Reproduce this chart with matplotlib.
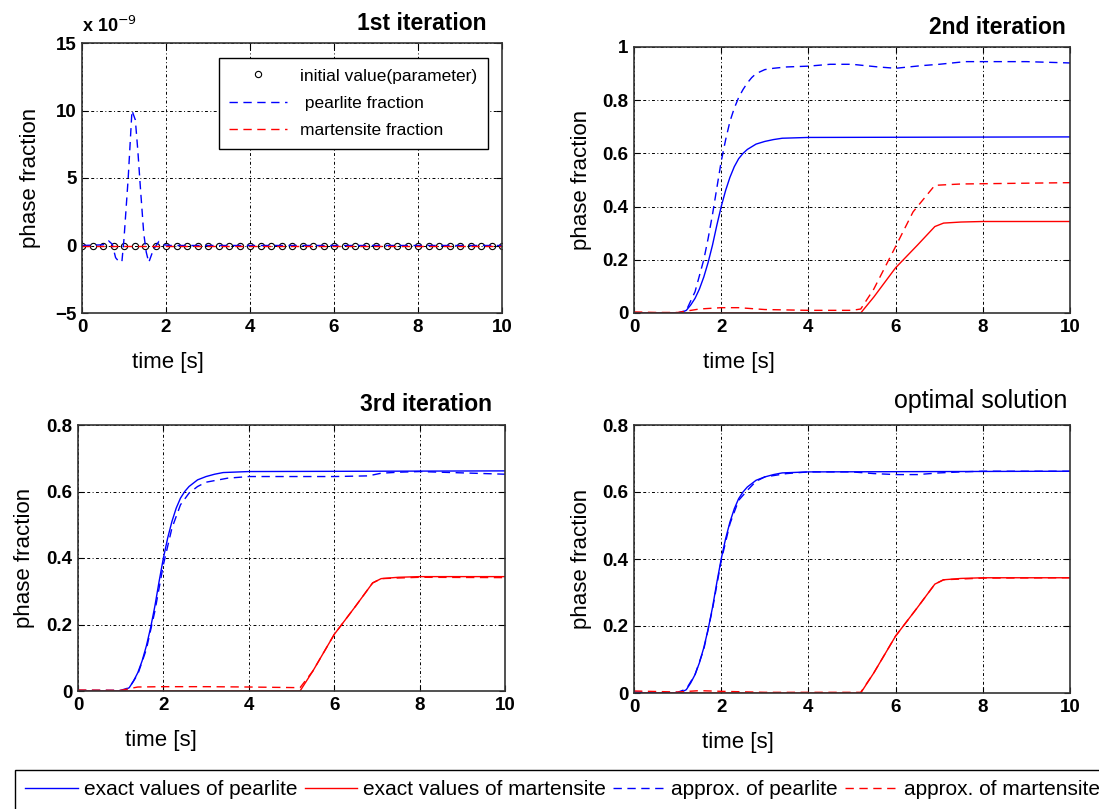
import numpy as np
import matplotlib
matplotlib.use("Agg")
from matplotlib import pyplot as plt

plt.rcParams['font.family'] = ['Liberation Sans', 'DejaVu Sans']

# ---- data ----
# exact solution (same in every panel)
t_pearl_exact = [0, 1.0, 1.1, 1.2, 1.3, 1.4, 1.5, 1.6, 1.7, 1.8, 1.9, 2.0, 2.1, 2.2,
                 2.3, 2.4, 2.5, 2.6, 2.8, 3.0, 3.2, 3.4, 4.0, 10]
pearl_exact = [0, 0, 0.003, 0.01, 0.03, 0.055, 0.09, 0.135, 0.19, 0.255, 0.33, 0.40,
               0.46, 0.51, 0.55, 0.58, 0.60, 0.615, 0.635, 0.645, 0.652, 0.657, 0.66, 0.662]
t_mart_exact = [0, 5.2, 5.5, 6.0, 6.5, 6.9, 7.1, 7.5, 8.0, 10]
mart_exact = [0, 0, 0.06, 0.17, 0.255, 0.325, 0.338, 0.342, 0.344, 0.344]

# 1st iteration
t_init = [0, 0.25, 0.5, 0.75, 1.0, 1.25, 1.5, 1.75, 2.0, 2.25, 2.5, 2.75, 3.0, 3.25,
          3.5, 3.75, 4.0, 4.25, 4.5, 4.75, 5.0, 5.25, 5.5, 5.75, 6.0, 6.25, 6.5,
          6.75, 7.0, 7.25, 7.5, 7.75, 8.0, 8.25, 8.5, 8.75, 9.0, 9.25, 9.5, 9.75, 10.0]
init_value = [0.0] * len(t_init)
t_pearl_1 = [0, 0.5, 0.63, 0.72, 0.8, 0.88, 0.95, 1.0, 1.1, 1.19, 1.27, 1.33, 1.39,
             1.47, 1.53, 1.59, 1.7, 1.83, 1.95, 2.1, 10]
pearl_1 = [0, 0.05e-9, 0.35e-9, 0.1e-9, -0.9e-9, -1.2e-9, -1.2e-9, 0.5e-9, 5.0e-9,
           10.0e-9, 9.3e-9, 7.0e-9, 4.3e-9, 0.9e-9, -0.5e-9, -1.25e-9, -0.3e-9,
           0.3e-9, 0.05e-9, 0, 0]
t_mart_1 = [0, 10]
mart_1 = [0, 0]

# 2nd iteration
t_pearl_2 = [0, 1.0, 1.2, 1.4, 1.6, 1.7, 1.8, 1.9, 2.0, 2.1, 2.2, 2.3, 2.4, 2.5, 2.6,
             2.7, 2.8, 3.0, 3.2, 3.5, 4.0, 4.5, 5.0, 5.3, 5.6, 6.0, 6.3, 6.6, 7.0,
             7.3, 7.6, 8.0, 9.0, 10]
pearl_2 = [0, 0, 0.01, 0.08, 0.2, 0.28, 0.37, 0.47, 0.57, 0.65, 0.72, 0.77, 0.81,
           0.84, 0.865, 0.885, 0.9, 0.915, 0.92, 0.925, 0.928, 0.935, 0.935, 0.93,
           0.925, 0.92, 0.925, 0.93, 0.935, 0.94, 0.945, 0.945, 0.945, 0.94]
t_mart_2 = [0, 0.5, 1.0, 1.5, 2.0, 2.4, 3.0, 4.0, 5.0, 5.2, 5.5, 6.0, 6.4, 6.9, 7.5, 10]
mart_2 = [0.004, 0.002, 0.002, 0.015, 0.02, 0.02, 0.013, 0.01, 0.01, 0.015, 0.09,
          0.25, 0.38, 0.48, 0.485, 0.49]

# 3rd iteration
t_pearl_3 = [0, 1.0, 1.2, 1.4, 1.6, 1.8, 2.0, 2.2, 2.4, 2.6, 2.8, 3.0, 3.5, 4.0, 5.0,
             6.0, 6.8, 7.1, 7.5, 8.0, 9.0, 10]
pearl_3 = [0.002, 0.002, 0.01, 0.05, 0.125, 0.24, 0.38, 0.49, 0.56, 0.595, 0.615,
           0.628, 0.64, 0.645, 0.645, 0.645, 0.647, 0.655, 0.658, 0.66, 0.656, 0.652]
t_mart_3 = [0, 1.0, 1.4, 2.0, 3.0, 4.0, 5.2, 5.5, 6.0, 6.5, 6.9, 7.1, 8.0, 10]
mart_3 = [0.003, 0.002, 0.012, 0.013, 0.013, 0.012, 0.01, 0.06, 0.17, 0.255, 0.325,
          0.338, 0.342, 0.341]

# optimal solution
t_pearl_opt = [0, 0.6, 1.0, 1.2, 1.4, 1.6, 1.8, 2.0, 2.2, 2.4, 2.6, 2.8, 3.0, 3.5,
               4.0, 5.0, 5.5, 6.0, 6.5, 7.0, 7.5, 8.0, 10]
pearl_opt = [0.003, 0.0, 0.002, 0.012, 0.055, 0.13, 0.25, 0.395, 0.505, 0.575, 0.605,
             0.632, 0.645, 0.655, 0.66, 0.66, 0.655, 0.652, 0.652, 0.657, 0.66, 0.662, 0.662]
t_mart_opt = [0, 1.0, 1.5, 2.0, 3.0, 4.0, 5.0, 5.2, 5.5, 6.0, 6.5, 6.9, 7.1, 8.0, 10]
mart_opt = [0.006, 0.003, 0.007, 0.005, 0.002, 0.002, 0.002, 0.002, 0.06, 0.17, 0.255,
            0.325, 0.338, 0.343, 0.344]

x_ticks = [0, 2, 4, 6, 8, 10]
x_ticklabels = ['0', '2', '4', '6', '8', '10']
y_ticks_1 = [-5e-9, 0, 5e-9, 10e-9, 15e-9]
y_ticklabels_1 = ['\u22125', '0', '5', '10', '15']
y_ticks_2 = [0, 0.2, 0.4, 0.6, 0.8, 1.0]
y_ticklabels_2 = ['0', '0.2', '0.4', '0.6', '0.8', '1']
y_ticks_34 = [0, 0.2, 0.4, 0.6, 0.8]
y_ticklabels_34 = ['0', '0.2', '0.4', '0.6', '0.8']

W, H = 1099, 809
fig = plt.figure(figsize=(W / 100, H / 100), dpi=100)


def px_axes(l, t, r, b):
    return fig.add_axes([l / W, 1 - b / H, (r - l) / W, (b - t) / H])


ax1 = px_axes(82, 43, 502, 313)
ax2 = px_axes(634, 47, 1070, 313)
ax3 = px_axes(78, 425, 505, 691)
ax4 = px_axes(634, 425, 1070, 693)

grid_ls = (0, (3, 2.5, 1, 2.5))
dash = (0, (6, 4))


def style(ax, yticks, ylabels, ylim, title, tx, ty, xl, yl, tsize=16.5, bold=True):
    ax.set_xlim(0, 10)
    ax.set_ylim(*ylim)
    ax.set_xticks(x_ticks)
    ax.set_xticklabels(x_ticklabels, fontsize=13.5, fontweight='bold')
    ax.set_yticks(yticks)
    ax.set_yticklabels(ylabels, fontsize=13.5, fontweight='bold')
    ax.tick_params(direction='in', length=4, top=True, right=True, pad=4)
    ax.grid(True, color='k', linestyle=grid_ls, linewidth=0.7)
    for s in ax.spines.values():
        s.set_linewidth(1.2)
        s.set_color('#333333')
    ax.set_xlabel('time [s]', fontsize=16)
    ax.set_ylabel('phase fraction', fontsize=16)
    ax.xaxis.set_label_coords(xl, -0.145)
    ax.yaxis.set_label_coords(yl, 0.5)
    ax.text(tx, ty, title, transform=ax.transAxes, ha='right', va='baseline',
            fontsize=tsize, fontweight='bold' if bold else 'normal')


# 1st iteration
ax1.plot(t_init, init_value, 'o', mfc='none', mec='k', ms=4.5, mew=0.8,
         label='initial value(parameter)')
ax1.plot(t_pearl_1, pearl_1, color='b', lw=1, linestyle=dash, label=' pearlite fraction')
ax1.plot(t_mart_1, mart_1, color='r', lw=1, linestyle=dash, label='martensite fraction')
style(ax1, y_ticks_1, y_ticklabels_1, (-5e-9, 15e-9), '1st iteration',
      0.964, 1 + 13 / 270, 0.205, -0.097)
ax1.text(0.0, 1 + 11 / 270, r'x 10$^{-9}$', transform=ax1.transAxes, ha='left',
         va='baseline', fontsize=13, fontweight='bold')
leg1 = ax1.legend(loc='upper right', bbox_to_anchor=((488 - 82) / 420, (313 - 58) / 270),
                  borderaxespad=0, fontsize=12.5, handlelength=3.3, labelspacing=0.7,
                  borderpad=0.6, fancybox=False, edgecolor='k', framealpha=1)
leg1.get_frame().set_linewidth(1.0)

# iterations 2, 3 and optimal solution
for ax, tp, p, tm, m in [(ax2, t_pearl_2, pearl_2, t_mart_2, mart_2),
                         (ax3, t_pearl_3, pearl_3, t_mart_3, mart_3),
                         (ax4, t_pearl_opt, pearl_opt, t_mart_opt, mart_opt)]:
    ax.plot(t_pearl_exact, pearl_exact, color='b', lw=1)
    ax.plot(t_mart_exact, mart_exact, color='r', lw=1)
    ax.plot(tp, p, color='b', lw=1, linestyle=dash)
    ax.plot(tm, m, color='r', lw=1, linestyle=dash)

style(ax2, y_ticks_2, y_ticklabels_2, (0, 1), '2nd iteration',
      0.99, 1 + 13 / 266, 0.241, -0.097)
style(ax3, y_ticks_34, y_ticklabels_34, (0, 0.8), '3rd iteration',
      0.97, 1 + 14 / 266, 0.194, -0.1)
style(ax4, y_ticks_34, y_ticklabels_34, (0, 0.8), 'optimal solution',
      0.995, 1 + 17 / 268, 0.239, -0.097, tsize=18, bold=False)

# common legend at the bottom
handles = ax4.get_lines()
labels = ['exact values of pearlite', 'exact values of martensite',
          'approx. of pearlite', 'approx. of martensite']
leg = fig.legend(handles, labels, loc='upper left', bbox_to_anchor=(15 / W, 1 - 770 / H),
                 borderaxespad=0, ncol=4, fontsize=15, handlelength=2.5,
                 handletextpad=0.3, columnspacing=0.35, borderpad=0.5, fancybox=False,
                 edgecolor='k', framealpha=1)
leg.get_frame().set_linewidth(1.0)

fig.savefig('out.png', dpi=100)
